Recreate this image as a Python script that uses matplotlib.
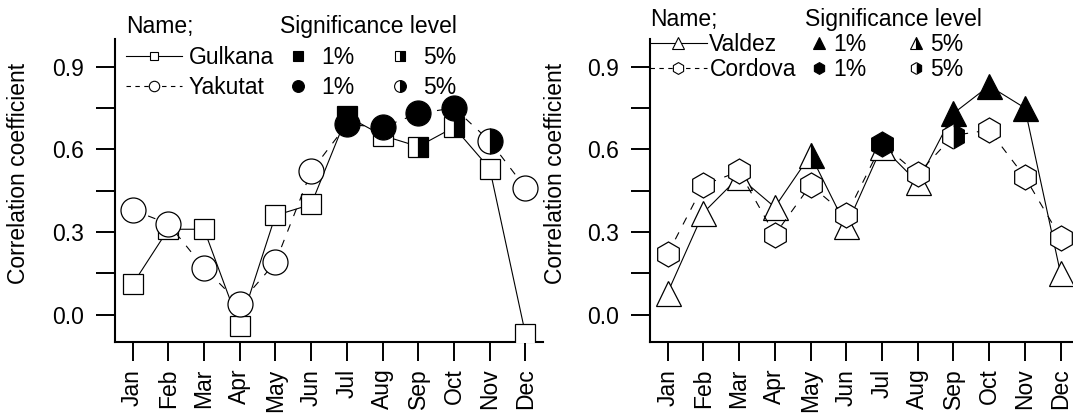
import numpy as np
import matplotlib
matplotlib.use('Agg')
import matplotlib.pyplot as plt
from matplotlib.lines import Line2D
from matplotlib.ticker import MultipleLocator, FormatStrFormatter

plt.rcParams['font.family'] = ['Liberation Sans', 'DejaVu Sans']

months = ['Jan', 'Feb', 'Mar', 'Apr', 'May', 'Jun', 'Jul', 'Aug', 'Sep', 'Oct', 'Nov', 'Dec']

# left panel
gulkana = [0.11, 0.31, 0.31, -0.04, 0.36, 0.40, 0.72, 0.65, 0.61, 0.68, 0.53, -0.07]
gulkana_sig = ['', '', '', '', '', '', '1%', '', '5%', '5%', '', '']
yakutat = [0.38, 0.33, 0.17, 0.04, 0.19, 0.52, 0.69, 0.68, 0.73, 0.75, 0.63, 0.46]
yakutat_sig = ['', '', '', '', '', '', '1%', '1%', '1%', '1%', '5%', '']

# right panel
valdez = [0.08, 0.37, 0.50, 0.39, 0.58, 0.32, 0.61, 0.48, 0.73, 0.83, 0.75, 0.15]
valdez_sig = ['', '', '', '', '5%', '', '', '', '1%', '1%', '1%', '']
cordova = [0.22, 0.47, 0.52, 0.29, 0.47, 0.36, 0.62, 0.51, 0.65, 0.67, 0.50, 0.28]
cordova_sig = ['', '', '', '', '', '', '1%', '', '5%', '', '', '']

FS = 16.5
DASH = (0, (7, 8))


def draw_series(ax, values, sig, marker, ms, ls, z):
    x = np.arange(1, len(months) + 1)
    y = np.array(values)
    s = np.array(sig)
    ax.plot(x, y, color='black', lw=0.8, ls=ls, zorder=z)
    m = s == ''
    ax.plot(x[m], y[m], ls='none', marker=marker, ms=ms, mfc='white',
            mec='black', mew=0.9, zorder=z + 0.1)
    m = s == '1%'
    ax.plot(x[m], y[m], ls='none', marker=marker, ms=ms, mfc='black',
            mec='black', mew=0.9, zorder=z + 0.1)
    m = s == '5%'
    ax.plot(x[m], y[m], ls='none', marker=marker, ms=ms, mfc='black',
            markerfacecoloralt='white', fillstyle='right',
            mec='black', mew=0.9, zorder=z + 0.1)


def style_axes(ax, label_x):
    ax.set_xlim(0.5, 12.5)
    ax.set_ylim(-0.1, 1.0)
    ax.spines['top'].set_visible(False)
    ax.spines['right'].set_visible(False)
    ax.spines['left'].set_linewidth(1.5)
    ax.spines['bottom'].set_linewidth(1.5)
    ax.set_xticks(np.arange(1, len(months) + 1))
    ax.set_xticklabels(months, rotation=90)
    ax.yaxis.set_major_locator(MultipleLocator(0.3))
    ax.yaxis.set_minor_locator(MultipleLocator(0.15))
    ax.yaxis.set_major_formatter(FormatStrFormatter('%.1f'))
    ax.tick_params(axis='both', which='both', direction='out', length=14,
                   width=1.4, labelsize=FS)
    ax.tick_params(axis='y', pad=8)
    ax.tick_params(axis='x', pad=5)
    ax.set_ylabel('Correlation coefficient', fontsize=FS, va='center')
    ax.yaxis.set_label_coords(label_x, 0.558)


def proxy(marker, ms, ls='none', fill='white', half=False):
    if half:
        return Line2D([], [], ls=ls, color='black', lw=0.8, marker=marker, ms=ms,
                      mfc='black', markerfacecoloralt='white', fillstyle='right',
                      mec='black', mew=0.8)
    return Line2D([], [], ls=ls, color='black', lw=0.8, marker=marker, ms=ms,
                  mfc=fill, mec='black', mew=0.8)


def add_legends(ax, names, markers, ms, a_x, b_x, top, hl_a, pad_a, hl_b, pad_b, cs_b, lsp):
    lines = [proxy(markers[0], ms[0], ls='-'), proxy(markers[1], ms[1], ls=(0, (4, 4)))]
    leg_a = ax.legend(lines, names, loc='upper left', bbox_to_anchor=(a_x, top),
                      frameon=False, borderpad=0, borderaxespad=0,
                      handlelength=hl_a, handletextpad=pad_a, labelspacing=lsp,
                      title='Name;', title_fontsize=FS, fontsize=FS,
                      alignment='left')
    ax.add_artist(leg_a)
    sig = [proxy(markers[0], ms[2], fill='black'), proxy(markers[1], ms[3], fill='black'),
           proxy(markers[0], ms[2], half=True), proxy(markers[1], ms[3], half=True)]
    ax.legend(sig, ['1%', '1%', '5%', '5%'], ncol=2, loc='upper left',
              bbox_to_anchor=(b_x, top), frameon=False, borderpad=0,
              borderaxespad=0, handlelength=hl_b, handletextpad=pad_b,
              columnspacing=cs_b, labelspacing=lsp,
              title='Significance level', title_fontsize=FS, fontsize=FS,
              alignment='left')


fig = plt.figure(figsize=(10.73, 4.16), dpi=100)
ax1 = fig.add_axes([114.7 / 1073, 73.7 / 416, 428.6 / 1073, 303.3 / 416])
ax2 = fig.add_axes([649.8 / 1073, 73.7 / 416, 428.6 / 1073, 303.3 / 416])

draw_series(ax1, gulkana, gulkana_sig, 's', 14.2, '-', 3)
draw_series(ax1, yakutat, yakutat_sig, 'o', 18, DASH, 4)
style_axes(ax1, -0.2256)
add_legends(ax1, ['Gulkana', 'Yakutat'], ['s', 'o'], [6, 7.5, 6.5, 8.5],
            0.0257, 0.3857, 1.0785, 2.45, 0.3, 1.6, 0.2, 1.2, 0.32)

draw_series(ax2, valdez, valdez_sig, '^', 18, '-', 3)
draw_series(ax2, cordova, cordova_sig, 'h', 18, DASH, 4)
style_axes(ax2, -0.219)
add_legends(ax2, ['Valdez', 'Cordova'], ['^', 'h'], [8, 8.5, 8, 8.5],
            0.0, 0.362, 1.102, 2.5, 0.1, 1.25, 0.0, 1.5, 0.08)

fig.savefig('out.png', dpi=100)
